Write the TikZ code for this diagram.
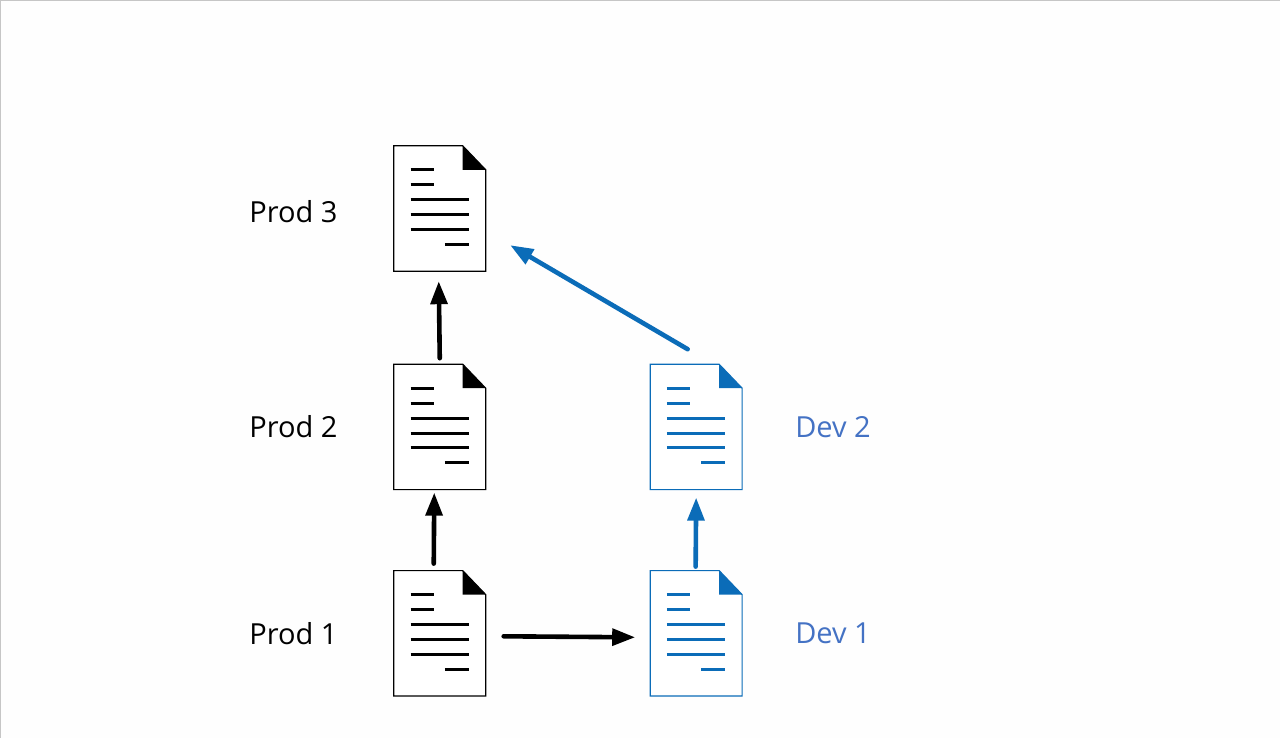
\documentclass[tikz,border=0pt]{standalone}
\usepackage{fontspec}
\setmainfont{Open Sans}
\usetikzlibrary{positioning,arrows.meta,calc}
\definecolor{devblue}{HTML}{0B6CB8}
\definecolor{devtext}{HTML}{4472C4}
\tikzset{
  docsheet/.style={minimum width=91.5pt, minimum height=125pt, inner sep=0pt},
  lbl/.style={font=\fontsize{29}{32}\selectfont, inner sep=0pt},
  fl/.style={-{Triangle[length=23pt,width=16.5pt]}, line width=4.6pt, line cap=round, black},
  dl/.style={fl, devblue},
}
% sheet with folded corner, drawn over a named node
\newcommand{\docicon}[2]{
  \draw[#2, line width=1.2pt, fill=white] (#1.north west) -- ($(#1.north east)+(-23,0)$)
    -- ($(#1.north east)+(0,-24)$) -- (#1.south east) -- (#1.south west) -- cycle;
  \fill[#2] ($(#1.north east)+(-23,0)$) -- ($(#1.north east)+(0,-24)$) -- ($(#1.north east)+(-23,-24)$) -- cycle;
  \foreach \ly/\lx/\lw in {24/16.7/23.3, 39/16.7/23.3, 54/16.7/58, 69/16.7/58, 83.5/16.7/58, 98.5/51/23.7}
    \draw[#2, line width=3pt] ($(#1.north west)+(\lx,-\ly)$) -- ++(\lw,0);
}
\begin{document}
\begin{tikzpicture}[x=1pt, y=1pt, node distance=81pt and 164.5pt]
\useasboundingbox (0,0) rectangle (1280,-738);
\fill[white!99.5!black] (0,0) rectangle (1280,-738);
\draw[gray!45, line width=1.5pt] (0,-738) -- (0,0) -- (1280,0);
\node[docsheet] (prod3) at (439.75,-208.5) {};
\node[docsheet, below=93pt of prod3] (prod2) {};
\node[docsheet, below=of prod2] (prod1) {};
\node[docsheet, right=of prod2] (dev2) {};
\node[docsheet, below=of dev2] (dev1) {};
\docicon{prod3}{black}
\docicon{prod2}{black}
\docicon{prod1}{black}
\docicon{dev2}{devblue}
\docicon{dev1}{devblue}
\node[lbl, left=56pt of prod3, yshift=-3.5pt] (l3) {Prod 3};
\node[lbl, left=56pt of prod2] (l2) {Prod 2};
\node[lbl, left=56pt of prod1] (l1) {Prod 1};
\node[lbl, right=53pt of dev2, text=devtext] (d2) {Dev 2};
\node[lbl, right=53pt of dev1, text=devtext] (d1) {Dev 1};
\draw[fl] ([yshift=6pt]prod2.north) -- ([xshift=-1pt,yshift=-10pt]prod3.south);
\draw[fl] ([xshift=-6pt,yshift=7pt]prod1.north) -- ([xshift=-5.5pt,yshift=-3pt]prod2.south);
\draw[fl] ([xshift=18pt,yshift=-3pt]prod1.east) -- ([xshift=-15pt,yshift=-4pt]dev1.west);
\draw[dl] ([xshift=-0.5pt,yshift=4pt]dev1.north) -- ([yshift=-8pt]dev2.south);
\draw[dl] ([xshift=-8.5pt,yshift=15pt]dev2.north) -- ([xshift=24.5pt,yshift=26pt]prod3.south east);
\end{tikzpicture}
\end{document}
